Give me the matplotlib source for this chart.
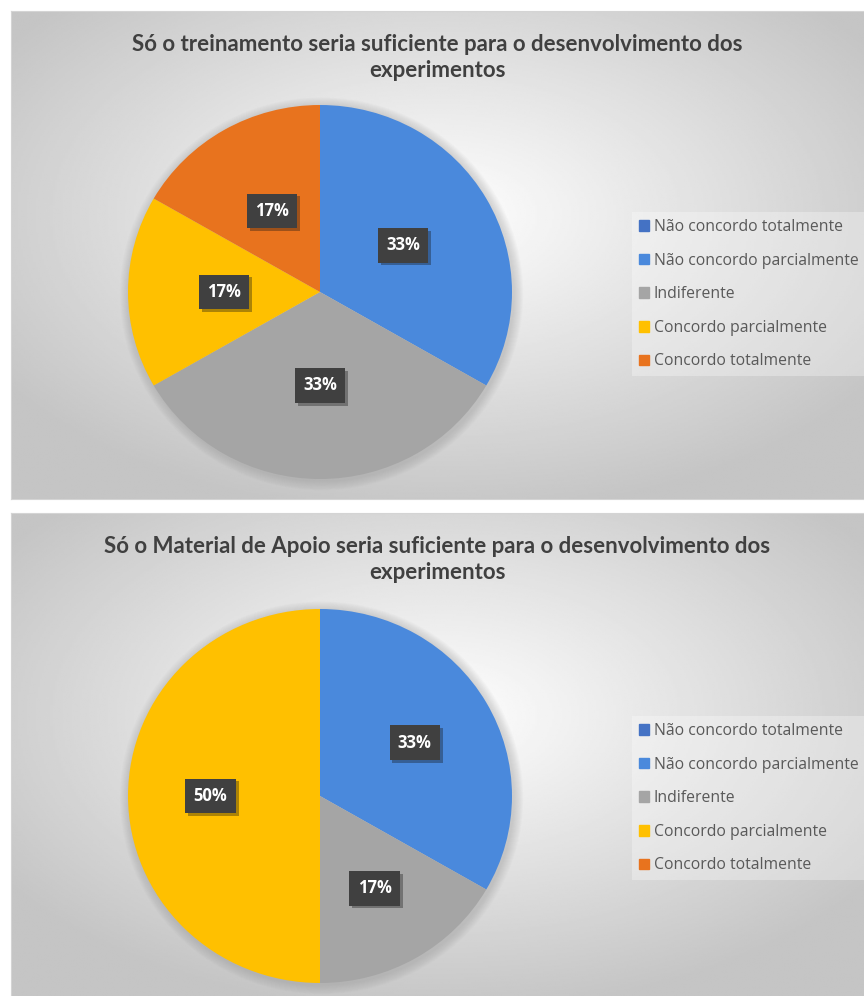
import numpy as np
import matplotlib.pyplot as plt
import matplotlib.patheffects as pe
from matplotlib.patches import Patch, Circle

W, H = 864, 996

categories = ['Não concordo totalmente', 'Não concordo parcialmente', 'Indiferente',
              'Concordo parcialmente', 'Concordo totalmente']
colors = ['#4472C4', '#4A89DC', '#A5A5A5', '#FFC000', '#E8731E']

title_treinamento = 'Só o treinamento seria suficiente para o desenvolvimento dos\nexperimentos'
title_material = 'Só o Material de Apoio seria suficiente para o desenvolvimento dos\nexperimentos'

# number of answers per category (6 respondents)
answers_treinamento = [0, 2, 2, 1, 1]
answers_material = [0, 2, 1, 3, 0]


def rect(x, y, w, h):
    # pixel box (from top-left) -> figure fraction
    return [x / W, 1 - (y + h) / H, w / W, h / H]


def pct_label(p):
    return '' if p < 0.5 else f'{p:.0f}%'


def draw_panel(fig, top, height, values, title, pie_cy, pct_dist):
    # radial grey background
    bg = fig.add_axes(rect(11, top, W - 11, height))
    yy, xx = np.mgrid[0:1:300j, 0:1:400j]
    r = np.sqrt(((xx - 0.5) / 0.62) ** 2 + ((yy - 0.42) / 0.62) ** 2)
    shade = 1 - 0.23 * np.clip(r, 0, 1)
    bg.imshow(shade, cmap='gray', vmin=0, vmax=1, extent=[0, 1, 0, 1],
              aspect='auto', origin='upper')
    bg.set_xticks([])
    bg.set_yticks([])
    for s in bg.spines.values():
        s.set_color('#d4d4d4')
        s.set_linewidth(0.8)

    fig.text((11 + W) / 2 / W, 1 - (top + 23) / H, title, ha='center', va='top',
             multialignment='center', fontsize=16, fontweight='bold', family='Lato',
             color='#404040', linespacing=1.3)

    rx, ry = 192, 187
    ax = fig.add_axes(rect(320 - rx, pie_cy - ry, 2 * rx, 2 * ry))
    ax.set_facecolor('none')
    # soft halo under the pie
    for i in range(10):
        ax.add_patch(Circle((0.008, -0.01), 1 + 0.005 * (i + 1), color='#8a8a8a',
                            alpha=0.035, lw=0, zorder=0, clip_on=False))
    wedges, _, autotexts = ax.pie(values, colors=colors, startangle=90, counterclock=False,
                                  autopct=pct_label, pctdistance=pct_dist, radius=1,
                                  wedgeprops=dict(linewidth=0))
    for w in wedges:
        w.set_zorder(2)
    for t in autotexts:
        t.set_fontsize(12)
        t.set_fontweight('bold')
        t.set_family('Open Sans')
        t.set_color('white')
        t.set_zorder(4)
        if t.get_text():
            t.set_bbox(dict(boxstyle='square,pad=0.5', fc='#404040', ec='none'))
            t.get_bbox_patch().set_path_effects(
                [pe.SimplePatchShadow(offset=(2, -2), alpha=0.35), pe.Normal()])
    ax.set_xlim(-1, 1)
    ax.set_ylim(-1, 1)
    ax.set_aspect('auto')
    ax.axis('off')

    handles = [Patch(color=c) for c in colors]
    leg = fig.legend(handles, categories, loc='upper left',
                     bbox_to_anchor=(632 / W, 1 - (pie_cy - 80) / H),
                     frameon=True, fancybox=False, handlelength=0.65,
                     handleheight=0.65, handletextpad=0.3, labelspacing=1.12,
                     borderpad=0.45, borderaxespad=0,
                     prop={'family': 'Open Sans', 'size': 11.3})
    leg.get_frame().set_facecolor('white')
    leg.get_frame().set_alpha(0.3)
    leg.get_frame().set_edgecolor('none')
    for t in leg.get_texts():
        t.set_color('#595959')


fig = plt.figure(figsize=(W / 100, H / 100), dpi=100)
fig.patch.set_facecolor('white')

draw_panel(fig, 11, 488, answers_treinamento, title_treinamento, 292, 0.5)
draw_panel(fig, 513, 483, answers_material, title_material, 796, 0.57)

fig.savefig('out.png', dpi=100)
